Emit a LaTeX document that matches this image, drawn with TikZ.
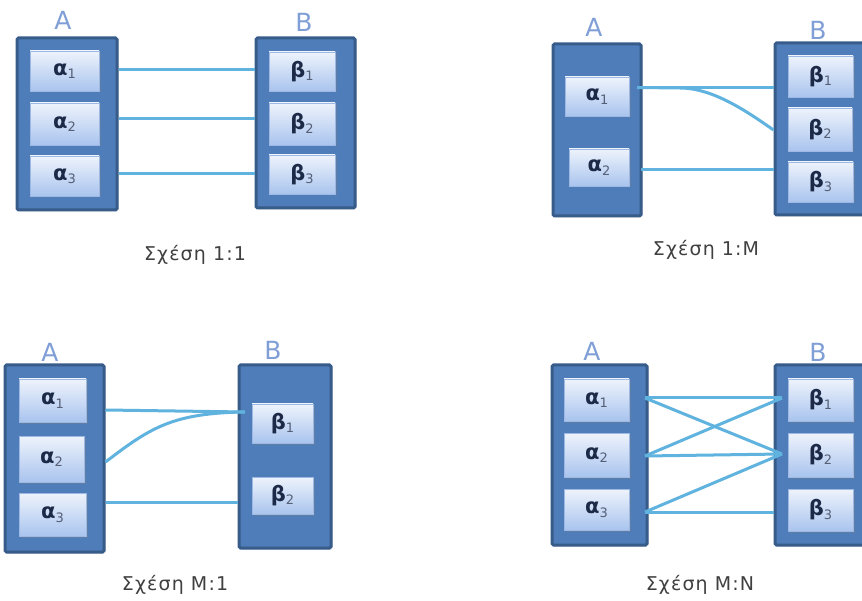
\documentclass[tikz,border=0pt]{standalone}
\usepackage{fontspec}
\setmainfont{DejaVu Sans}
\newfontfamily\capfont[LetterSpace=6]{DejaVu Sans}
\usetikzlibrary{shadows}
\definecolor{contfill}{HTML}{4E7DB9}
\definecolor{contedge}{HTML}{385C8A}
\definecolor{boxtop}{HTML}{EEF3FC}
\definecolor{boxbot}{HTML}{A9C4EE}
\definecolor{boxedge}{HTML}{9DB8E2}
\definecolor{linkcol}{HTML}{5FB3DE}
\definecolor{settitle}{HTML}{809FD6}
\definecolor{elemtext}{HTML}{1C2A48}
\definecolor{captext}{HTML}{404040}
\newcommand{\lowdigit}[1]{{\fontsize{13}{13}\selectfont\mdseries\color{elemtext!75}\raisebox{-3.5pt}{#1}}}
\newcommand{\elA}[1]{\textbf{α}\lowdigit{#1}}
\newcommand{\elB}[1]{\textbf{β}\lowdigit{#1}}
\tikzset{
  cont/.style={draw=contedge, fill=contfill, line width=3pt, rounded corners=1.5pt,
    inner sep=0pt, drop shadow={opacity=0.25, shadow xshift=1.5pt, shadow yshift=-1.5pt}},
  elem/.style={draw=boxedge, line width=0.8pt, top color=boxtop, bottom color=boxbot,
    inner sep=0pt, text=elemtext, font=\fontsize{21}{21}\selectfont,
    drop shadow={opacity=0.35, shadow xshift=1.5pt, shadow yshift=-1.5pt}},
  settitle/.style={text=settitle, font=\fontsize{25}{25}\selectfont},
  caption/.style={text=captext, font=\capfont\fontsize{19}{19}\selectfont},
  link/.style={draw=linkcol, line width=3pt}
}
\begin{document}
\begin{tikzpicture}[x=1pt, y=-1pt]
\clip (0,0) rectangle (862,601);
\fill[white] (0,0) rectangle (862,601);

% ---------- 1:1 ----------
\node[cont, minimum width=100pt, minimum height=172pt] (p1A) at (67,124) {};
\node[cont, minimum width=99pt, minimum height=170pt] (p1B) at (305.5,123) {};
\node[settitle] (p1tA) at (63,20) {A};
\node[settitle] (p1tB) at (304,22) {B};
\node[elem, minimum width=69pt, minimum height=40pt] (p1a1) at (64.5,71) {\elA{1}};
\node[elem, minimum width=69pt, minimum height=42pt] (p1a2) at (64.5,124) {\elA{2}};
\node[elem, minimum width=69pt, minimum height=40pt] (p1a3) at (64.5,176) {\elA{3}};
\node[elem, minimum width=66pt, minimum height=39pt] (p1b1) at (302,71.5) {\elB{1}};
\node[elem, minimum width=66pt, minimum height=42pt] (p1b2) at (302,124) {\elB{2}};
\node[elem, minimum width=66pt, minimum height=39pt] (p1b3) at (302,174.5) {\elB{3}};
\draw[link] (p1A.east |- 0,70) -- (p1B.west |- 0,70);
\draw[link] (p1A.east |- 0,119) -- (p1B.west |- 0,119);
\draw[link] (p1A.east |- 0,174) -- (p1B.west |- 0,174);
\node[caption] (p1cap) at (195,255) {Σχέση 1:1};

% ---------- 1:M ----------
\node[cont, minimum width=88pt, minimum height=172pt] (p2A) at (597,130) {};
\node[cont, minimum width=105pt, minimum height=172pt] (p2B) at (827.5,129) {};
\node[settitle] (p2tA) at (594,27) {A};
\node[settitle] (p2tB) at (818,30) {B};
\node[elem, minimum width=64pt, minimum height=39pt] (p2a1) at (597,96.5) {\elA{1}};
\node[elem, minimum width=60pt, minimum height=37pt] (p2a2) at (599,167.5) {\elA{2}};
\node[elem, minimum width=65pt, minimum height=41pt] (p2b1) at (820.5,76.5) {\elB{1}};
\node[elem, minimum width=64pt, minimum height=43pt] (p2b2) at (820,129.5) {\elB{2}};
\node[elem, minimum width=65pt, minimum height=40pt] (p2b3) at (820.5,182) {\elB{3}};
\coordinate (p2s1) at (637,87.5);
\coordinate (p2s2) at (641,169.5);
\draw[link] (p2s1) -- (p2s1 -| p2B.west);
\draw[link] (p2s1) -- (680,88) .. controls (712,88) and (745,110) .. (p2B.west |- 0,130);
\draw[link] (p2s2) -- (p2s2 -| p2B.west);
\node[caption] (p2cap) at (706,250) {Σχέση 1:Μ};

% ---------- M:1 ----------
\node[cont, minimum width=99pt, minimum height=187pt] (p3A) at (54.5,458.5) {};
\node[cont, minimum width=92pt, minimum height=183pt] (p3B) at (285,456.5) {};
\node[settitle] (p3tA) at (50,352) {A};
\node[settitle] (p3tB) at (273,350) {B};
\node[elem, minimum width=67pt, minimum height=43pt] (p3a1) at (52.5,400.5) {\elA{1}};
\node[elem, minimum width=65pt, minimum height=46pt] (p3a2) at (51.5,459) {\elA{2}};
\node[elem, minimum width=67pt, minimum height=43pt] (p3a3) at (52.5,514.5) {\elA{3}};
\node[elem, minimum width=61pt, minimum height=39pt] (p3b1) at (282.5,423.5) {\elB{1}};
\node[elem, minimum width=61pt, minimum height=37pt] (p3b2) at (282.5,495.5) {\elB{2}};
\coordinate (p3t1) at (245,412);
\draw[link] (p3A.east |- 0,410) -- (p3t1);
\draw[link] (p3A.east |- 0,462) .. controls (150,428) and (172,413) .. (p3t1);
\draw[link] (p3A.east |- 0,502) -- (p3B.west |- 0,502);
\node[caption] (p3cap) at (175,585) {Σχέση Μ:1};

% ---------- M:N ----------
\node[cont, minimum width=95pt, minimum height=180pt] (p4A) at (599.5,455) {};
\node[cont, minimum width=105pt, minimum height=180pt] (p4B) at (827.5,455) {};
\node[settitle] (p4tA) at (592,351) {A};
\node[settitle] (p4tB) at (818,352) {B};
\node[elem, minimum width=65pt, minimum height=42pt] (p4a1) at (596.5,400) {\elA{1}};
\node[elem, minimum width=65pt, minimum height=44pt] (p4a2) at (596.5,455) {\elA{2}};
\node[elem, minimum width=65pt, minimum height=41pt] (p4a3) at (596.5,509.5) {\elA{3}};
\node[elem, minimum width=65pt, minimum height=42pt] (p4b1) at (820.5,400) {\elB{1}};
\node[elem, minimum width=65pt, minimum height=44pt] (p4b2) at (820.5,455) {\elB{2}};
\node[elem, minimum width=65pt, minimum height=42pt] (p4b3) at (820.5,510) {\elB{3}};
\coordinate (p4s1) at (645,398);
\coordinate (p4s2) at (645,456);
\coordinate (p4s3) at (645,512);
\coordinate (p4t1) at (782,398);
\coordinate (p4t2) at (782,454);
\draw[link] (p4s1) -- (p4t1);
\draw[link] (p4s1) -- (p4t2);
\draw[link] (p4s2) -- (p4t1);
\draw[link] (p4s2) -- (p4t2);
\draw[link] (p4s3) -- (p4t2);
\draw[link] (p4s3) -- (p4s3 -| p4B.west);
\node[caption] (p4cap) at (700,585) {Σχέση Μ:Ν};
\end{tikzpicture}
\end{document}
